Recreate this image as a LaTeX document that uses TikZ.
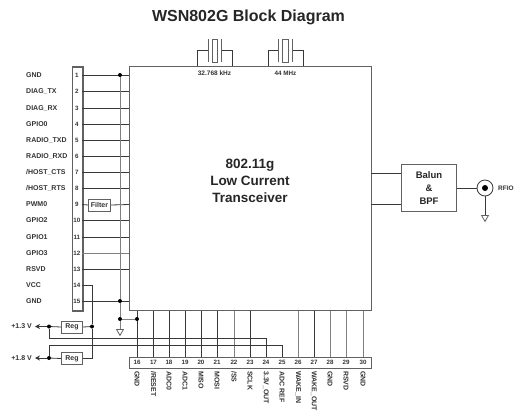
\documentclass[tikz,border=0pt]{standalone}
\usepackage{fontspec}
\setmainfont{Liberation Sans}
\definecolor{ln}{gray}{0.22}
\definecolor{lg}{gray}{0.5}
\definecolor{bx}{gray}{0.38}
\tikzset{
  x=1pt,y=-1pt,
  wire/.style={draw=ln,line width=0.8pt},
  wiregray/.style={draw=lg,line width=1pt},
  boxed/.style={draw=bx,line width=1pt,fill=white,inner sep=0pt,anchor=north west},
  lab/.style={font=\bfseries\fontsize{7}{8}\selectfont,text=black!80,inner sep=0pt},
  numlab/.style={font=\bfseries\fontsize{6.2}{7}\selectfont,text=black!80,inner sep=0pt},
  dotn/.style={circle,fill=black,inner sep=0pt,minimum size=4pt},
  gnds/.style={draw=bx,line width=0.8pt,fill=white,isosceles triangle,shape border rotate=-90,isosceles triangle apex angle=60,inner sep=0pt,minimum width=6pt,minimum height=6pt,anchor=north},
}
\usetikzlibrary{shapes.geometric,arrows.meta}
\begin{document}
\begin{tikzpicture}
\useasboundingbox (0,0) rectangle (515,413);
\node[font=\bfseries\fontsize{16}{18}\selectfont,text=black!85] (title) at (248.5,17) {WSN802G Block Diagram};

% main blocks
\node[boxed,minimum width=242pt,minimum height=244pt] (main) at (129,66) {};
\node[font=\bfseries\fontsize{13.5}{17}\selectfont,align=center,text=black!85] (mainlab) at (250,181) {802.11g\\Low Current\\Transceiver};
\node[boxed,minimum width=10.5pt,minimum height=244pt,line width=1.6pt] (hdr) at (71.5,66) {};
\node[boxed,minimum width=242pt,minimum height=11pt] (bot) at (129,357) {};
\node[boxed,minimum width=55pt,minimum height=47pt,font=\bfseries\fontsize{9.5}{13}\selectfont,align=center,text=black!85] (balun) at (401,164) {Balun\\\&\\BPF};

% left pins
\foreach \i/\y/\t in {1/75/GND,2/91/DIAG\_TX,3/108/DIAG\_RX,4/124/GPIO0,5/140/RADIO\_TXD,6/156/RADIO\_RXD,7/172/{/HOST\_CTS},8/188/{/HOST\_RTS},9/204.5/PWM0,10/220/GPIO2,11/237/GPIO1,12/253/GPIO3,13/269/RSVD,14/285/VCC,15/301/GND}{
  \coordinate (P\i) at (82,\y);
  \node[numlab] (PN\i) at (76.8,\y) {\i};
  \node[lab,anchor=west] (PT\i) at (26,\y) {\t};
}
\foreach \i in {1,2,3,4,5,6,7,8,10,11,13,15}{
  \draw[wire] (P\i) -- (P\i -| main.west);
}
\draw[wiregray] (P12) -- (P12 -| main.west);
\node[boxed,minimum width=22pt,minimum height=12pt,font=\bfseries\fontsize{7}{8}\selectfont,text=black!80] (filter) at (88,198.5) {Filter};
\draw[wire] (P9) -- (filter.west);
\draw[wire] (filter.east) -- (P9 -| main.west);

% bottom pins
\foreach \i/\x/\t in {16/137/GND,17/153.5/{/RESET},18/169/ADC0,19/185/ADC1,20/201/MISO,21/217/MOSI,22/234/{/SS},23/250/SCLK,24/266/{3.3V\_OUT},25/282/ADC REF,26/298/WAKE\_IN,27/314/WAKE\_OUT,28/330/GND,29/346/RSVD,30/363/GND}{
  \coordinate (B\i) at (\x,357);
  \node[numlab] (BN\i) at (\x,362.5) {\i};
  \node[lab,rotate=-90,anchor=west] (BT\i) at (\x,371) {\t};
}
\foreach \i in {16,17,18,19,20,21,23,27}{
  \draw[wire] (B\i) -- (B\i |- main.south);
}
\foreach \i in {22,26,28,29,30}{
  \draw[wiregray] (B\i) -- (B\i |- main.south);
}

% ground bus
\node[dotn] (d1) at (120,75) {};
\node[dotn] (d2) at (120,301) {};
\node[dotn] (d3) at (120,319) {};
\node[dotn] (d4) at (137,319) {};
\node[gnds] (g1) at (120,329) {};
\draw[wiregray] (d1) -- (d2) -- (d3) -- (g1.north);
\draw[wiregray] (d3) -- (d4);

% regulators
\node[boxed,minimum width=21pt,minimum height=12pt,font=\bfseries\fontsize{7}{8}\selectfont,text=black!80] (reg1) at (61,320.5) {Reg};
\node[boxed,minimum width=21pt,minimum height=12pt,font=\bfseries\fontsize{7}{8}\selectfont,text=black!80] (reg2) at (61,352) {Reg};
\node[dotn] (d5) at (92,326.5) {};
\node[dotn] (d6) at (49,326.5) {};
\node[dotn] (d7) at (49,358) {};
\node[lab,anchor=east] (v1) at (32,326.5) {+1.3 V};
\node[lab,anchor=east] (v2) at (32,358) {+1.8 V};
\coordinate (a1) at (35,326.5);
\coordinate (a2) at (35,358);
\draw[wire] (P14) -| (d5);
\draw[wire] (d5) |- (reg2.east);
\draw[wire] (reg1.east) -- (d5);
\draw[wire] (reg1.west) -- (d6);
\draw[wire] (reg2.west) -- (d7);
\draw[wire,-{Stealth[length=5pt,width=5pt]}] (d6) -- (a1);
\draw[wire,-{Stealth[length=5pt,width=5pt]}] (d7) -- (a2);
\draw[wire] (d6) |- (266,338.5) -- (B24);
\draw[wire] (d7) |- (282,345.5) -- (B25);

% crystals
\foreach \n/\a/\b/\l/\r/\pl/\pr/\t/\s in {xa/197/232/212/217.5/208/221/{32.768 kHz}/6.5,xb/268/303/282/288/278/292/{44 MHz}/6.3}{
  \coordinate (\n L) at (\a,66);
  \coordinate (\n R) at (\b,66);
  \coordinate (\n pl) at (\pl,50);
  \coordinate (\n pr) at (\pr,50);
  \draw[wire] (\n L) |- (\n pl);
  \draw[wire] (\n R) |- (\n pr);
  \draw[draw=bx,line width=0.8pt] (\pl,39) -- (\pl,62);
  \draw[draw=bx,line width=0.8pt] (\pr,39) -- (\pr,62);
  \draw[draw=bx,line width=0.8pt] (\l,39) rectangle (\r,62);
  \node[font=\bfseries\fontsize{\s}{7}\selectfont,text=black!80,inner sep=0pt] (\n T) at ({(\a+\b)/2},73.5) {\t};
}

% RF output
\coordinate (m1) at (371,173);
\coordinate (m2) at (371,204);
\draw[wire] (m1) -- (m1 -| balun.west);
\draw[wire] (m2) -- (m2 -| balun.west);
\node[circle,draw=ln,line width=0.8pt,fill=white,minimum size=16pt,inner sep=0pt] (rf) at (485,188) {};
\node[circle,fill=black,minimum size=6pt,inner sep=0pt] (rfc) at (485,188) {};
\node[gnds] (g2) at (485,215) {};
\draw[wire] (balun.east |- rf) -- (rf.west);
\draw[wire] (rf.south) -- (g2.north);
\node[lab,font=\bfseries\fontsize{6.5}{7}\selectfont] (rft) at (506,188) {RFIO};
\end{tikzpicture}
\end{document}
